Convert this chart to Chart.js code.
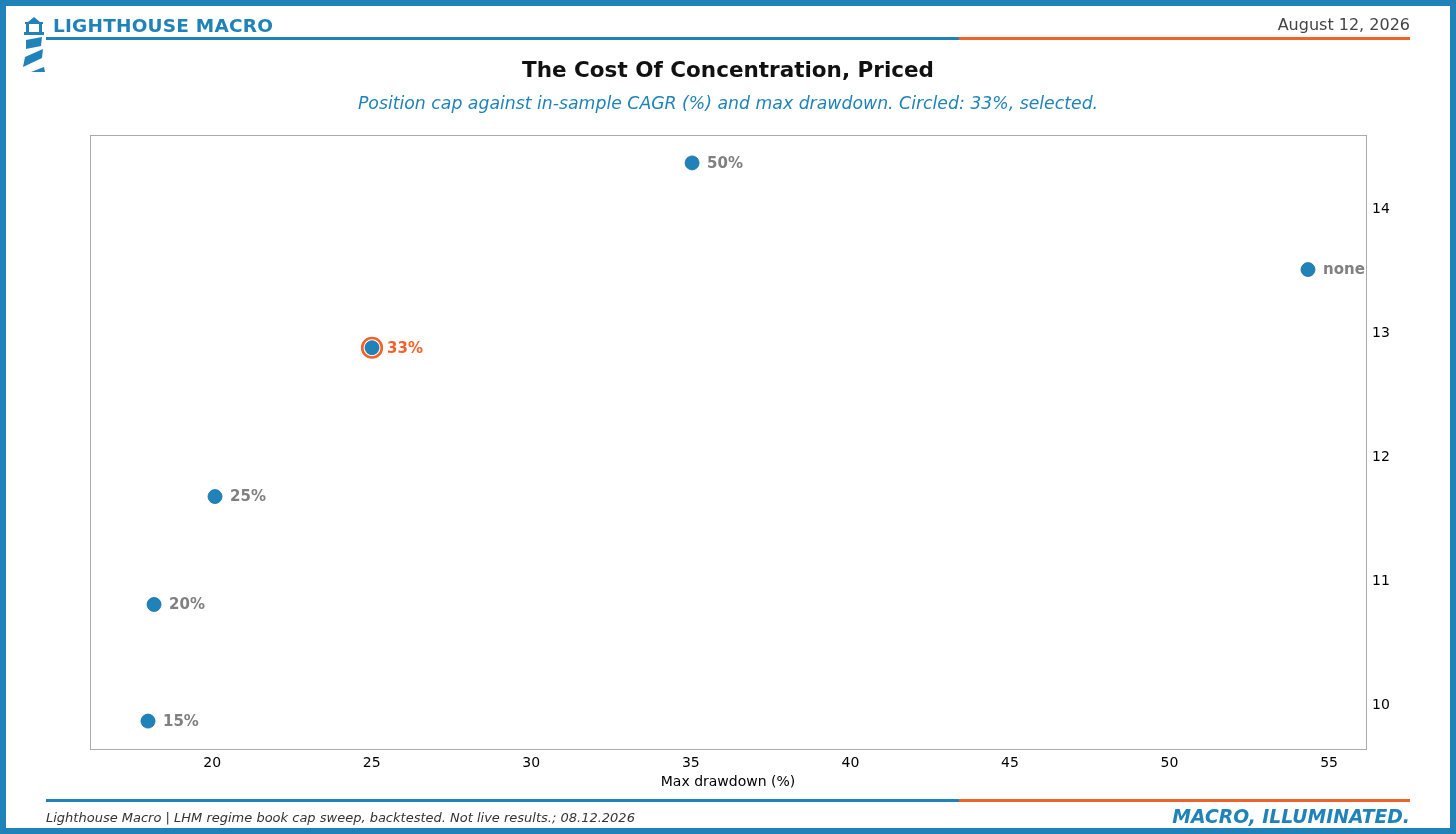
<!DOCTYPE html>
<html>
<head>
<meta charset="utf-8">
<script src="https://cdn.jsdelivr.net/npm/chart.js@4.4.1/dist/chart.umd.min.js"></script>
<style>
  html, body { margin: 0; padding: 0; background: #fff; }
  body { width: 1456px; height: 834px; position: relative; overflow: hidden; font-family: "DejaVu Sans", sans-serif; }
  .frame { position: absolute; left: 0; top: 0; width: 1444px; height: 822px; border: 6px solid #1f83b9; pointer-events: none; z-index: 5; }
  #chart { position: absolute; left: 0; top: 0; }
  .txt { position: absolute; white-space: nowrap; z-index: 3; }
  .brand { left: 53px; top: 15px; font-size: 18.5px; font-weight: bold; color: #1f83b9; letter-spacing: 0.2px; }
  .date { right: 46px; top: 15px; font-size: 16px; color: #444; }
  .title { left: 0; width: 1456px; text-align: center; top: 57px; font-size: 21.5px; font-weight: bold; color: #111; }
  .subtitle { left: 0; width: 1456px; text-align: center; top: 93px; font-size: 17.3px; font-style: italic; color: #1f83b9; }
  .foot { left: 46px; top: 810px; font-size: 13px; font-style: italic; color: #333; }
  .tag { right: 46px; top: 806px; font-size: 18.8px; font-style: italic; font-weight: bold; color: #1f83b9; }
  .rule { position: absolute; height: 3px; z-index: 3; }
  .logo { position: absolute; left: 22px; top: 16px; z-index: 3; }
</style>
</head>
<body>
<div class="frame"></div>
<svg class="logo" width="24" height="57" viewBox="0 0 24 57">
  <polygon points="6,6 12,1 18,6" fill="#1f83b9"/>
  <rect x="3" y="6" width="18" height="2" fill="#1f83b9"/>
  <rect x="4" y="8" width="3" height="8" fill="#1f83b9"/>
  <rect x="17" y="8" width="3" height="8" fill="#1f83b9"/>
  <rect x="2" y="16" width="20" height="3" fill="#1f83b9"/>
  <polygon points="4,24 20,21 19,30 4,33" fill="#1f83b9"/>
  <polygon points="3,41 21,33 20,42 1,51" fill="#1f83b9"/>
  <polygon points="9,56 22,51 23,56" fill="#1f83b9"/>
</svg>
<div class="txt brand">LIGHTHOUSE MACRO</div>
<div class="txt date">August 12, 2026</div>
<div class="rule" style="left:46px; top:37px; width:913px; background:#1f83b9;"></div>
<div class="rule" style="left:959px; top:37px; width:451px; background:#f0622a;"></div>
<div class="txt title">The Cost Of Concentration, Priced</div>
<div class="txt subtitle">Position cap against in-sample CAGR (%) and max drawdown. Circled: 33%, selected.</div>
<div class="rule" style="left:46px; top:799px; width:913px; background:#1f83b9;"></div>
<div class="rule" style="left:959px; top:799px; width:451px; background:#f0622a;"></div>
<div class="txt foot">Lighthouse Macro | LHM regime book cap sweep, backtested. Not live results.; 08.12.2026</div>
<div class="txt tag">MACRO, ILLUMINATED.</div>
<canvas id="chart" width="1456" height="834"></canvas>
<script>
// Cap sweep results
const capLabels = ['15%', '20%', '25%', '33%', '50%', 'none'];
const maxDrawdown = [17.99, 18.18, 20.09, 25.01, 35.04, 54.34];
const cagr = [9.86, 10.80, 11.67, 12.87, 14.36, 13.50];
const selectedCap = '33%';

const xTicks = [20, 25, 30, 35, 40, 45, 50, 55];
const yTicks = [10, 11, 12, 13, 14];

const BLUE = '#1f83b9';
const ORANGE = '#f0622a';
const FONT = '"DejaVu Sans", sans-serif';

// matplotlib-style 5% margins around the data
function padRange(vals) {
  const lo = Math.min(...vals), hi = Math.max(...vals);
  const m = (hi - lo) * 0.05;
  return [lo - m, hi + m];
}
const [xMin, xMax] = padRange(maxDrawdown);
const [yMin, yMax] = padRange(cagr);

const points = maxDrawdown.map((x, i) => ({ x: x, y: cagr[i] }));
const selIdx = capLabels.indexOf(selectedCap);

// frame round the plot area
const framePlugin = {
  id: 'frame',
  afterDraw(chart) {
    const a = chart.chartArea, ctx = chart.ctx;
    ctx.save();
    ctx.strokeStyle = '#aaaaaa';
    ctx.lineWidth = 1;
    ctx.strokeRect(a.left + 0.5, a.top + 0.5, a.right - a.left, a.bottom - a.top);
    ctx.restore();
  }
};

// cap labels next to each point
const labelPlugin = {
  id: 'capLabels',
  afterDatasetsDraw(chart) {
    const ctx = chart.ctx;
    const meta = chart.getDatasetMeta(0);
    ctx.save();
    ctx.font = 'bold 15px ' + FONT;
    ctx.textBaseline = 'middle';
    ctx.textAlign = 'left';
    meta.data.forEach((el, i) => {
      ctx.fillStyle = capLabels[i] === selectedCap ? ORANGE : '#808080';
      ctx.fillText(capLabels[i], el.x + 15, el.y + 1);
    });
    ctx.restore();
  }
};

new Chart(document.getElementById('chart'), {
  type: 'scatter',
  data: {
    datasets: [
      {
        label: 'caps',
        data: points,
        pointRadius: 7,
        pointBorderWidth: 0.8,
        pointBackgroundColor: BLUE,
        pointBorderColor: '#1a6f9e',
        pointHoverRadius: 7
      },
      {
        label: 'selected',
        data: [points[selIdx]],
        pointRadius: 9.8,
        pointBorderWidth: 2.6,
        pointBackgroundColor: 'rgba(255,255,255,1)',
        pointBorderColor: ORANGE,
        pointHoverRadius: 9.8
      }
    ]
  },
  options: {
    responsive: false,
    animation: false,
    layout: { padding: { left: 90, top: 135, right: 30, bottom: 35 } },
    plugins: { legend: { display: false }, tooltip: { enabled: false } },
    scales: {
      x: {
        type: 'linear',
        min: xMin,
        max: xMax,
        grid: { display: false, drawTicks: false },
        border: { display: false },
        afterBuildTicks: s => { s.ticks = xTicks.map(v => ({ value: v })); },
        afterFit: s => { s.height = 50; },
        ticks: { color: '#000', padding: 6, font: { family: FONT, size: 14 } },
        title: {
          display: true,
          text: 'Max drawdown (%)',
          color: '#000',
          padding: { top: 0, bottom: 8 },
          font: { family: FONT, size: 14 }
        }
      },
      y: {
        type: 'linear',
        position: 'right',
        min: yMin,
        max: yMax,
        grid: { display: false, drawTicks: false },
        border: { display: false },
        afterBuildTicks: s => { s.ticks = yTicks.map(v => ({ value: v })); },
        afterFit: s => { s.width = 60; },
        ticks: { color: '#000', padding: 6, labelOffset: 1.5, font: { family: FONT, size: 14 } }
      }
    }
  },
  plugins: [framePlugin, labelPlugin]
});
</script>
</body>
</html>
